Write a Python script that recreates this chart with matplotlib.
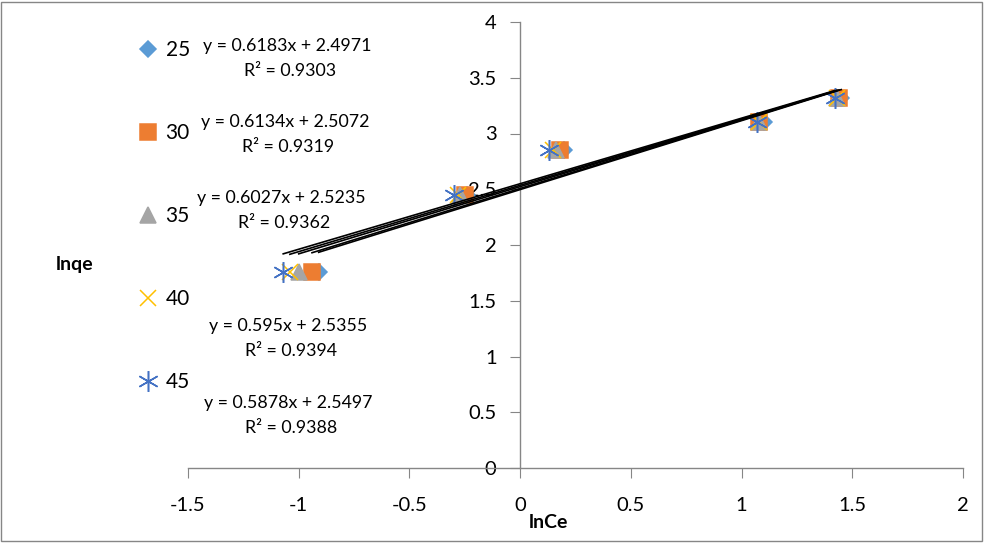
import numpy as np
import matplotlib.pyplot as plt
from matplotlib.lines import Line2D
from matplotlib.patches import Rectangle

plt.rcParams['font.family'] = ['Lato', 'DejaVu Sans']

## data
temps = ['25', '30', '35', '40', '45']
y_vals = [1.76, 2.45, 2.85, 3.10, 3.32]
x_25 = [-0.91, -0.24, 0.20, 1.10, 1.45]
x_30 = [-0.94, -0.25, 0.18, 1.08, 1.44]
x_35 = [-1.00, -0.27, 0.16, 1.08, 1.43]
x_40 = [-1.04, -0.28, 0.15, 1.08, 1.43]
x_45 = [-1.07, -0.30, 0.13, 1.07, 1.42]
slopes = [0.6183, 0.6134, 0.6027, 0.595, 0.5878]
intercepts = [2.4971, 2.5072, 2.5235, 2.5355, 2.5497]
r2 = [0.9303, 0.9319, 0.9362, 0.9394, 0.9388]

xs = [x_25, x_30, x_35, x_40, x_45]
colors = ['#5B9BD5', '#ED7D31', '#A5A5A5', '#FFC000', '#4472C4']
markers = ['D', 's', '^', 'x', (6, 2, 0)]
msizes = [8, 12, 12, 12, 15]

W, H = 984, 544
fig = plt.figure(figsize=(W / 100, H / 100), dpi=100)
ax = fig.add_axes([188 / W, 76 / H, (963 - 188) / W, (522 - 76) / H])

handles = []
for i in range(len(temps)):
    x = np.array(xs[i])
    xx = np.array([x.min(), x.max()])
    ax.plot(xx, slopes[i] * xx + intercepts[i], color='black', lw=1.2, zorder=3)
for i in range(len(temps)):
    ax.plot(xs[i], y_vals, linestyle='none', marker=markers[i], color=colors[i],
            markersize=msizes[i], markeredgewidth=1.1, zorder=2)
    handles.append(Line2D([0], [0], linestyle='none', marker=markers[i], color=colors[i],
                          markersize=msizes[i], markeredgewidth=1.1, label=temps[i]))

ax.set_xlim(-1.5, 2)
ax.set_ylim(0, 4)
ax.set_xticks(np.arange(-1.5, 2.01, 0.5))
ax.set_yticks(np.arange(0, 4.01, 0.5))
ax.xaxis.set_major_formatter(lambda v, p: f'{v:g}')
ax.yaxis.set_major_formatter(lambda v, p: f'{v:g}')

for s in ['top', 'right']:
    ax.spines[s].set_visible(False)
ax.spines['left'].set_position(('data', 0))
ax.spines['bottom'].set_position(('data', 0))
for s in ['left', 'bottom']:
    ax.spines[s].set_color('#868686')
    ax.spines[s].set_linewidth(1)
ax.tick_params(axis='x', direction='out', length=7, color='#868686', labelsize=14.5, pad=14)
ax.tick_params(axis='y', direction='out', length=7, color='#868686', labelsize=14.5, pad=10)

# legend
fig.legend(handles=handles, loc='upper left', bbox_to_anchor=(126 / W, 1 - 30 / H),
           frameon=False, fontsize=15, labelspacing=3.02, handlelength=1.1,
           handletextpad=0.3, borderpad=0)

# trendline equations
eq_pos = [(287, 46), (285, 122), (281, 198), (288, 326), (288, 403)]
for i in range(len(temps)):
    px, py = eq_pos[i]
    fig.text(px / W, 1 - py / H, f'y = {slopes[i]}x + {intercepts[i]}', ha='center', va='center', fontsize=12.8)
    fig.text((px + 3) / W, 1 - (py + 25) / H, f'R² = {r2[i]}', ha='center', va='center', fontsize=12.8)

fig.text(75 / W, 1 - 265 / H, 'lnqe', ha='center', va='center', fontsize=14, fontweight='bold')
fig.text(548 / W, 1 - 522 / H, 'lnCe', ha='center', va='center', fontsize=14, fontweight='bold')

fig.patches.append(Rectangle((1 / W, 3 / H), (W - 3) / W, (H - 5) / H, transform=fig.transFigure,
                             fill=False, edgecolor='#868686', lw=1))

fig.savefig('out.png', dpi=100)
